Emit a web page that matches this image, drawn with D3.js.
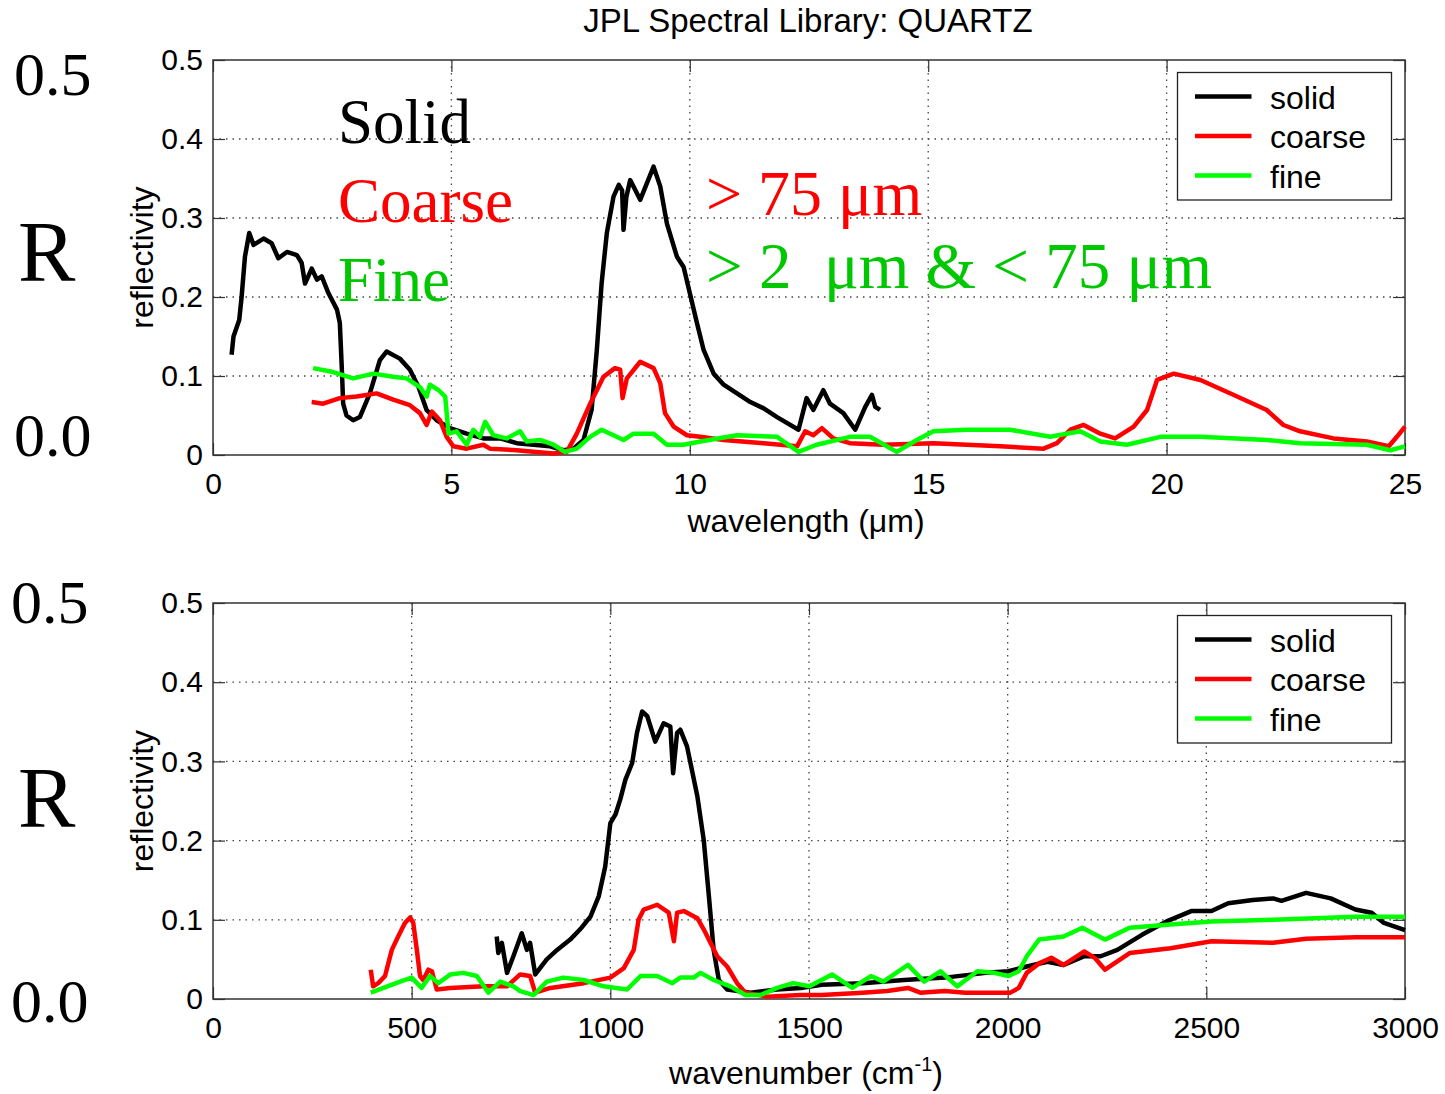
<!DOCTYPE html>
<html>
<head>
<meta charset="utf-8" />
<style>
body {
	margin: 0;
	background: #fff;
}
svg {
	display: block;
}
.tick text {
	font-family: "Liberation Sans", Arial, sans-serif;
	font-size: 30px;
	fill: #000;
}
.tick line {
	stroke: #333;
	stroke-width: 1.2;
}
.grid line {
	stroke: #444;
	stroke-width: 1.3;
	stroke-dasharray: 1.5, 5;
}
.frame {
	fill: none;
	stroke: #333;
	stroke-width: 1.5;
}
.sans {
	font-family: "Liberation Sans", Arial, sans-serif;
	font-size: 32px;
}
.serif {
	font-family: "Liberation Serif", "Times New Roman", serif;
}
.curve {
	fill: none;
	stroke-width: 4.5;
	stroke-linejoin: round;
}
</style>
</head>
<body>
<script src="https://d3js.org/d3.v7.min.js"></script>
<script>
// series names and colours
var seriesNames = ["solid", "coarse", "fine"];
var seriesColors = ["#000000", "#ff0000", "#00ff00"];

// ticks
var yTicks = [0, 0.1, 0.2, 0.3, 0.4, 0.5];
var yTickLabels = ["0", "0.1", "0.2", "0.3", "0.4", "0.5"];
var wlTicks = [0, 5, 10, 15, 20, 25];
var wnTicks = [0, 500, 1000, 1500, 2000, 2500, 3000];

// top panel: wavelength (um) vs reflectivity
var wlSolid = [[0.39,0.127],[0.43,0.15],[0.55,0.171],[0.60,0.20],[0.67,0.251],[0.76,0.281],[0.85,0.266],[1.06,0.274],[1.23,0.268],[1.37,0.249],[1.55,0.257],[1.76,0.253],[1.86,0.243],[1.93,0.217],[2.07,0.236],[2.18,0.222],[2.28,0.226],[2.42,0.205],[2.60,0.184],[2.66,0.167],[2.70,0.112],[2.73,0.065],[2.80,0.050],[2.94,0.044],[3.08,0.048],[3.29,0.078],[3.50,0.120],[3.64,0.131],[3.92,0.122],[4.13,0.108],[4.31,0.086],[4.48,0.057],[4.69,0.044],[4.97,0.034],[5.32,0.027],[5.67,0.021],[6.02,0.021],[6.37,0.015],[6.72,0.013],[7.07,0.011],[7.35,0.006],[7.56,0.008],[7.77,0.019],[7.94,0.057],[8.05,0.133],[8.15,0.217],[8.26,0.281],[8.40,0.327],[8.51,0.342],[8.58,0.335],[8.61,0.285],[8.67,0.327],[8.75,0.348],[8.96,0.323],[9.24,0.365],[9.38,0.340],[9.52,0.293],[9.73,0.251],[9.87,0.238],[10.0,0.205],[10.15,0.167],[10.29,0.133],[10.50,0.103],[10.71,0.089],[10.99,0.078],[11.27,0.067],[11.55,0.059],[11.83,0.048],[12.28,0.032],[12.45,0.072],[12.59,0.057],[12.80,0.082],[12.94,0.065],[13.22,0.053],[13.47,0.032],[13.68,0.061],[13.82,0.076],[13.89,0.061],[13.99,0.057]];
var wlCoarse = [[2.07,0.067],[2.31,0.065],[2.66,0.072],[3.01,0.074],[3.43,0.078],[3.78,0.070],[4.13,0.063],[4.34,0.053],[4.48,0.038],[4.59,0.055],[4.76,0.044],[4.90,0.023],[5.04,0.011],[5.32,0.008],[5.67,0.013],[5.81,0.008],[6.37,0.006],[6.72,0.004],[7.14,0.002],[7.42,0.004],[7.63,0.027],[7.91,0.065],[8.19,0.099],[8.43,0.110],[8.54,0.108],[8.59,0.072],[8.68,0.097],[8.96,0.118],[9.24,0.110],[9.38,0.091],[9.48,0.053],[9.66,0.036],[9.94,0.025],[10.22,0.023],[10.71,0.019],[11.55,0.015],[12.25,0.011],[12.42,0.030],[12.59,0.025],[12.77,0.034],[13.01,0.021],[13.36,0.015],[14.06,0.013],[15.11,0.015],[16.51,0.011],[17.42,0.008],[17.70,0.015],[17.98,0.032],[18.26,0.038],[18.61,0.027],[18.92,0.021],[19.31,0.036],[19.59,0.057],[19.80,0.095],[20.15,0.103],[20.71,0.095],[21.41,0.076],[22.10,0.057],[22.45,0.038],[22.80,0.030],[23.50,0.021],[24.20,0.017],[24.66,0.011],[24.83,0.023],[25.0,0.036]];
var wlFine = [[2.10,0.110],[2.52,0.105],[2.94,0.097],[3.36,0.103],[3.78,0.099],[4.06,0.097],[4.34,0.086],[4.48,0.074],[4.55,0.089],[4.73,0.082],[4.87,0.074],[4.94,0.027],[5.11,0.030],[5.32,0.013],[5.46,0.032],[5.60,0.023],[5.71,0.042],[5.88,0.025],[6.16,0.021],[6.44,0.030],[6.58,0.017],[6.86,0.019],[7.14,0.013],[7.38,0.004],[7.63,0.008],[7.91,0.023],[8.15,0.032],[8.40,0.025],[8.61,0.019],[8.82,0.027],[9.24,0.027],[9.52,0.013],[9.87,0.013],[10.22,0.017],[10.99,0.025],[11.83,0.023],[12.28,0.004],[12.66,0.013],[13.36,0.023],[13.78,0.023],[14.34,0.004],[14.76,0.019],[15.11,0.030],[15.81,0.032],[16.72,0.032],[17.56,0.023],[18.19,0.030],[18.61,0.017],[19.17,0.013],[19.87,0.023],[20.71,0.023],[22.10,0.019],[22.80,0.015],[24.20,0.013],[24.69,0.006],[25.0,0.011]];

// bottom panel: wavenumber (cm-1) vs reflectivity
var wnSolid = [[714,0.079],[718,0.058],[727,0.071],[740,0.033],[756,0.054],[777,0.083],[790,0.062],[798,0.071],[811,0.031],[840,0.050],[866,0.062],[899,0.075],[924,0.088],[950,0.104],[971,0.130],[987,0.167],[1000,0.222],[1013,0.233],[1025,0.252],[1038,0.277],[1055,0.298],[1067,0.336],[1080,0.363],[1093,0.357],[1113,0.325],[1134,0.348],[1151,0.344],[1158,0.285],[1168,0.336],[1176,0.340],[1193,0.319],[1219,0.256],[1235,0.201],[1248,0.130],[1260,0.062],[1273,0.024],[1294,0.012],[1353,0.008],[1420,0.012],[1479,0.014],[1532,0.018],[1635,0.020],[1739,0.024],[1842,0.027],[1945,0.033],[2002,0.035],[2048,0.041],[2100,0.047],[2141,0.043],[2193,0.054],[2234,0.054],[2276,0.062],[2338,0.081],[2400,0.098],[2462,0.111],[2513,0.111],[2555,0.121],[2617,0.125],[2668,0.127],[2689,0.124],[2751,0.134],[2813,0.127],[2875,0.113],[2916,0.109],[2947,0.096],[3000,0.087]];
var wnCoarse = [[397,0.037],[403,0.016],[416,0.020],[433,0.029],[450,0.062],[466,0.079],[483,0.096],[496,0.103],[504,0.096],[513,0.062],[521,0.029],[529,0.024],[542,0.037],[551,0.035],[563,0.012],[597,0.014],[681,0.016],[740,0.016],[773,0.031],[798,0.029],[811,0.008],[849,0.014],[933,0.020],[1000,0.027],[1034,0.039],[1059,0.062],[1071,0.100],[1084,0.113],[1118,0.119],[1147,0.109],[1160,0.073],[1168,0.109],[1185,0.111],[1219,0.102],[1235,0.088],[1269,0.054],[1294,0.041],[1319,0.020],[1340,0.008],[1395,0.003],[1479,0.005],[1532,0.005],[1635,0.008],[1697,0.010],[1749,0.014],[1780,0.008],[1842,0.010],[1893,0.008],[2007,0.008],[2028,0.014],[2048,0.033],[2079,0.045],[2110,0.052],[2141,0.043],[2193,0.060],[2219,0.052],[2245,0.037],[2307,0.058],[2410,0.064],[2513,0.073],[2668,0.071],[2751,0.076],[2875,0.078],[3000,0.078]];
var wnFine = [[397,0.008],[429,0.014],[471,0.022],[500,0.027],[525,0.014],[546,0.029],[567,0.020],[597,0.031],[630,0.033],[664,0.029],[693,0.008],[723,0.022],[756,0.016],[773,0.010],[807,0.005],[840,0.022],[882,0.027],[933,0.024],[983,0.016],[1042,0.012],[1076,0.029],[1118,0.029],[1156,0.020],[1176,0.027],[1210,0.027],[1227,0.033],[1260,0.024],[1302,0.016],[1340,0.005],[1378,0.005],[1420,0.014],[1460,0.020],[1501,0.016],[1558,0.031],[1609,0.014],[1656,0.029],[1687,0.022],[1749,0.043],[1790,0.022],[1831,0.035],[1873,0.016],[1924,0.035],[1966,0.033],[2002,0.029],[2028,0.035],[2048,0.054],[2079,0.075],[2141,0.079],[2188,0.090],[2214,0.083],[2245,0.075],[2307,0.090],[2410,0.094],[2513,0.098],[2668,0.100],[2772,0.102],[2875,0.104],[3000,0.104]];

var svg = d3.select("body").append("svg")
	.attr("width", 1445)
	.attr("height", 1094);

var left = 213, right = 1405, tickLen = 12;

svg.append("text")
	.attr("class", "sans")
	.attr("x", 808)
	.attr("y", 32)
	.attr("text-anchor", "middle")
	.style("font-size", "33px")
	.text("JPL Spectral Library: QUARTZ");

function drawPanel(top, bottom, xDomain, xTicks, series) {
	var w = right - left, h = bottom - top;
	var x = d3.scaleLinear().domain(xDomain).range([0, w]);
	var y = d3.scaleLinear().domain([0, 0.5]).range([h, 0]);
	var g = svg.append("g").attr("transform", "translate(" + left + "," + top + ")");

	// dotted grid
	var grid = g.append("g").attr("class", "grid");
	grid.selectAll(".gx").data(xTicks.slice(1, -1)).enter().append("line")
		.attr("x1", function(d) { return x(d); })
		.attr("x2", function(d) { return x(d); })
		.attr("y1", 0).attr("y2", h);
	grid.selectAll(".gy").data(yTicks.slice(1, -1)).enter().append("line")
		.attr("x1", 0).attr("x2", w)
		.attr("y1", function(d) { return y(d); })
		.attr("y2", function(d) { return y(d); });

	// axes, ticks pointing inward
	g.append("g").call(d3.axisLeft(y).tickValues(yTicks)
		.tickFormat(function(d, i) { return yTickLabels[i]; })
		.tickSizeInner(-tickLen).tickSizeOuter(0).tickPadding(10));
	g.append("g").attr("transform", "translate(" + w + ",0)")
		.call(d3.axisRight(y).tickValues(yTicks).tickFormat("")
		.tickSizeInner(-tickLen).tickSizeOuter(0));
	g.append("g").attr("transform", "translate(0," + h + ")")
		.call(d3.axisBottom(x).tickValues(xTicks).tickFormat(d3.format("d"))
		.tickSizeInner(-tickLen).tickSizeOuter(0).tickPadding(18));
	g.append("g")
		.call(d3.axisTop(x).tickValues(xTicks).tickFormat("")
		.tickSizeInner(-tickLen).tickSizeOuter(0));
	g.selectAll(".domain").remove();

	g.append("rect").attr("class", "frame")
		.attr("x", 0).attr("y", 0).attr("width", w).attr("height", h);

	var line = d3.line()
		.x(function(d) { return x(d[0]); })
		.y(function(d) { return y(d[1]); });

	for (var i = 0; i < series.length; i++) {
		g.append("path")
			.attr("class", "curve")
			.attr("stroke", seriesColors[i])
			.attr("d", line(series[i]));
	}

	// legend
	var lg = g.append("g").attr("transform", "translate(" + (1177.5 - left) + "," + (12.5) + ")");
	lg.append("rect")
		.attr("width", 214).attr("height", 127.5)
		.attr("fill", "#fff").attr("stroke", "#222").attr("stroke-width", 1.3);
	for (i = 0; i < seriesNames.length; i++) {
		lg.append("line")
			.attr("x1", 17.5).attr("x2", 74)
			.attr("y1", 24 + i * 39.5).attr("y2", 24 + i * 39.5)
			.attr("stroke", seriesColors[i]).attr("stroke-width", 4.5);
		lg.append("text")
			.attr("class", "sans")
			.attr("x", 92.5)
			.attr("y", 36 + i * 39.5)
			.text(seriesNames[i]);
	}

	// y label
	g.append("text")
		.attr("class", "sans")
		.attr("transform", "translate(" + (153 - left) + "," + (h / 2) + ") rotate(-90)")
		.attr("text-anchor", "middle")
		.text("reflectivity");

	return g;
}

drawPanel(60, 455, [0, 25], wlTicks, [wlSolid, wlCoarse, wlFine]);
drawPanel(603, 999, [0, 3000], wnTicks, [wnSolid, wnCoarse, wnFine]);

// x labels
svg.append("text")
	.attr("class", "sans")
	.attr("x", 806).attr("y", 532)
	.attr("text-anchor", "middle")
	.text("wavelength (\u03bcm)");

var wnLabel = svg.append("text")
	.attr("class", "sans")
	.attr("x", 806).attr("y", 1084)
	.attr("text-anchor", "middle");
wnLabel.append("tspan").text("wavenumber (cm");
wnLabel.append("tspan").attr("dy", -13).style("font-size", "20px").text("-1");
wnLabel.append("tspan").attr("dy", 13).text(")");

// big left-hand labels
var bigLabels = [
	{t: "0.5", x: 14, y: 95, s: 62},
	{t: "R", x: 18, y: 281, s: 86},
	{t: "0.0", x: 14, y: 456, s: 62},
	{t: "0.5", x: 11, y: 623, s: 62},
	{t: "R", x: 18, y: 827, s: 86},
	{t: "0.0", x: 11, y: 1022, s: 62}
];
bigLabels.forEach(function(b) {
	svg.append("text")
		.attr("class", "serif")
		.attr("x", b.x).attr("y", b.y)
		.style("font-size", b.s + "px")
		.text(b.t);
});

// annotations in top panel
var notes = [
	{t: "Solid", x: 338, y: 143, c: "#000000", s: 63},
	{t: "Coarse", x: 338, y: 222, c: "#ff0000", s: 63},
	{t: "Fine", x: 338, y: 301, c: "#00c800", s: 63},
	{t: "> 75 \u03bcm", x: 706, y: 215, c: "#ff0000", s: 64},
	{t: "> 2\u00a0\u00a0\u03bcm & < 75 \u03bcm", x: 706, y: 288, c: "#00c800", s: 65}
];
notes.forEach(function(n) {
	svg.append("text")
		.attr("class", "serif")
		.attr("x", n.x).attr("y", n.y)
		.attr("fill", n.c)
		.style("font-size", n.s + "px")
		.text(n.t);
});
</script>
</body>
</html>
